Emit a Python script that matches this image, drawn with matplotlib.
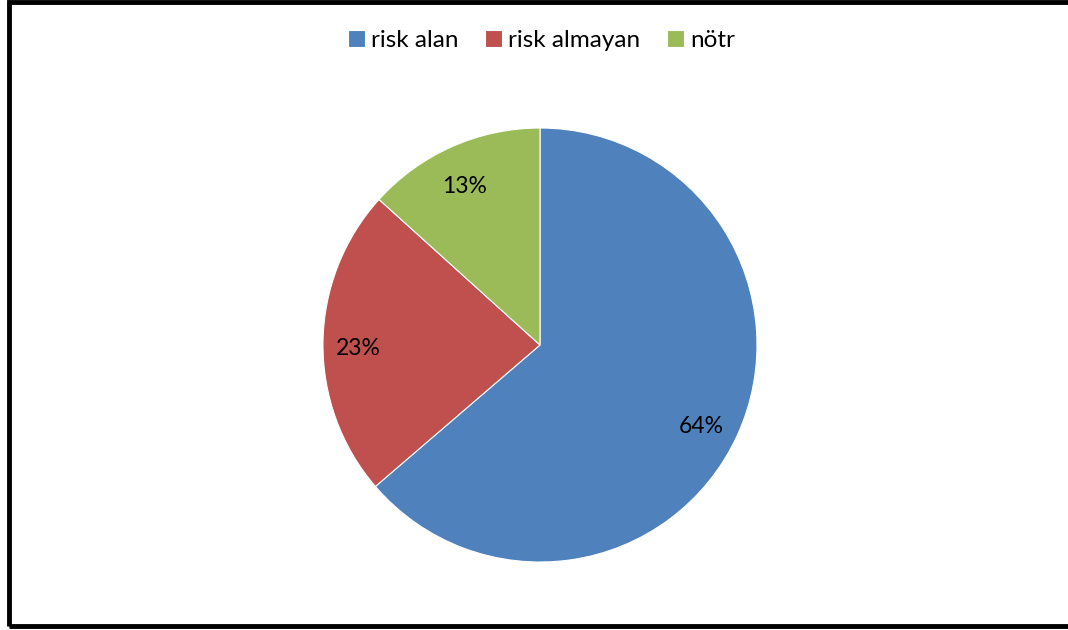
import matplotlib.pyplot as plt
from matplotlib.patches import Rectangle
from matplotlib.transforms import ScaledTranslation

labels = ["risk alan", "risk almayan", "nötr"]
values = [63.7, 23.0, 13.3]
colors = ["#4f81bd", "#c0504d", "#9bbb59"]

plt.rcParams['font.family'] = ['Lato', 'DejaVu Sans']

fig = plt.figure(figsize=(10.68, 6.30), dpi=100)
ax = fig.add_axes([0.3024, 0.1079, 0.4064, 0.6889])

wedges, texts, autotexts = ax.pie(values, colors=colors, startangle=90, counterclock=False,
                                  autopct='%1.0f%%', pctdistance=0.83,
                                  wedgeprops=dict(edgecolor='white', linewidth=0.8),
                                  textprops=dict(fontsize=16.5, color='black'))
ax.set_aspect('equal')
ax.set_xlim(-1, 1)
ax.set_ylim(-1, 1)

# excel-style labels sit a bit lower
shift = ScaledTranslation(-2 / 100, -6 / 100, fig.dpi_scale_trans)
for t in autotexts:
    t.set_transform(t.get_transform() + shift)

fig.legend(wedges, labels, loc='center', bbox_to_anchor=(0.507, 0.935), ncol=3,
           frameon=False, fontsize=17.5, handlelength=0.7, handleheight=0.7,
           handletextpad=0.25, columnspacing=1.1)

# outer border
fig.patches.append(Rectangle((8.5 / 1068, 4.5 / 630), 1.02, 624 / 630, transform=fig.transFigure,
                             fill=False, edgecolor='black', linewidth=3.5))

fig.savefig("out.png", dpi=100, facecolor='white')
